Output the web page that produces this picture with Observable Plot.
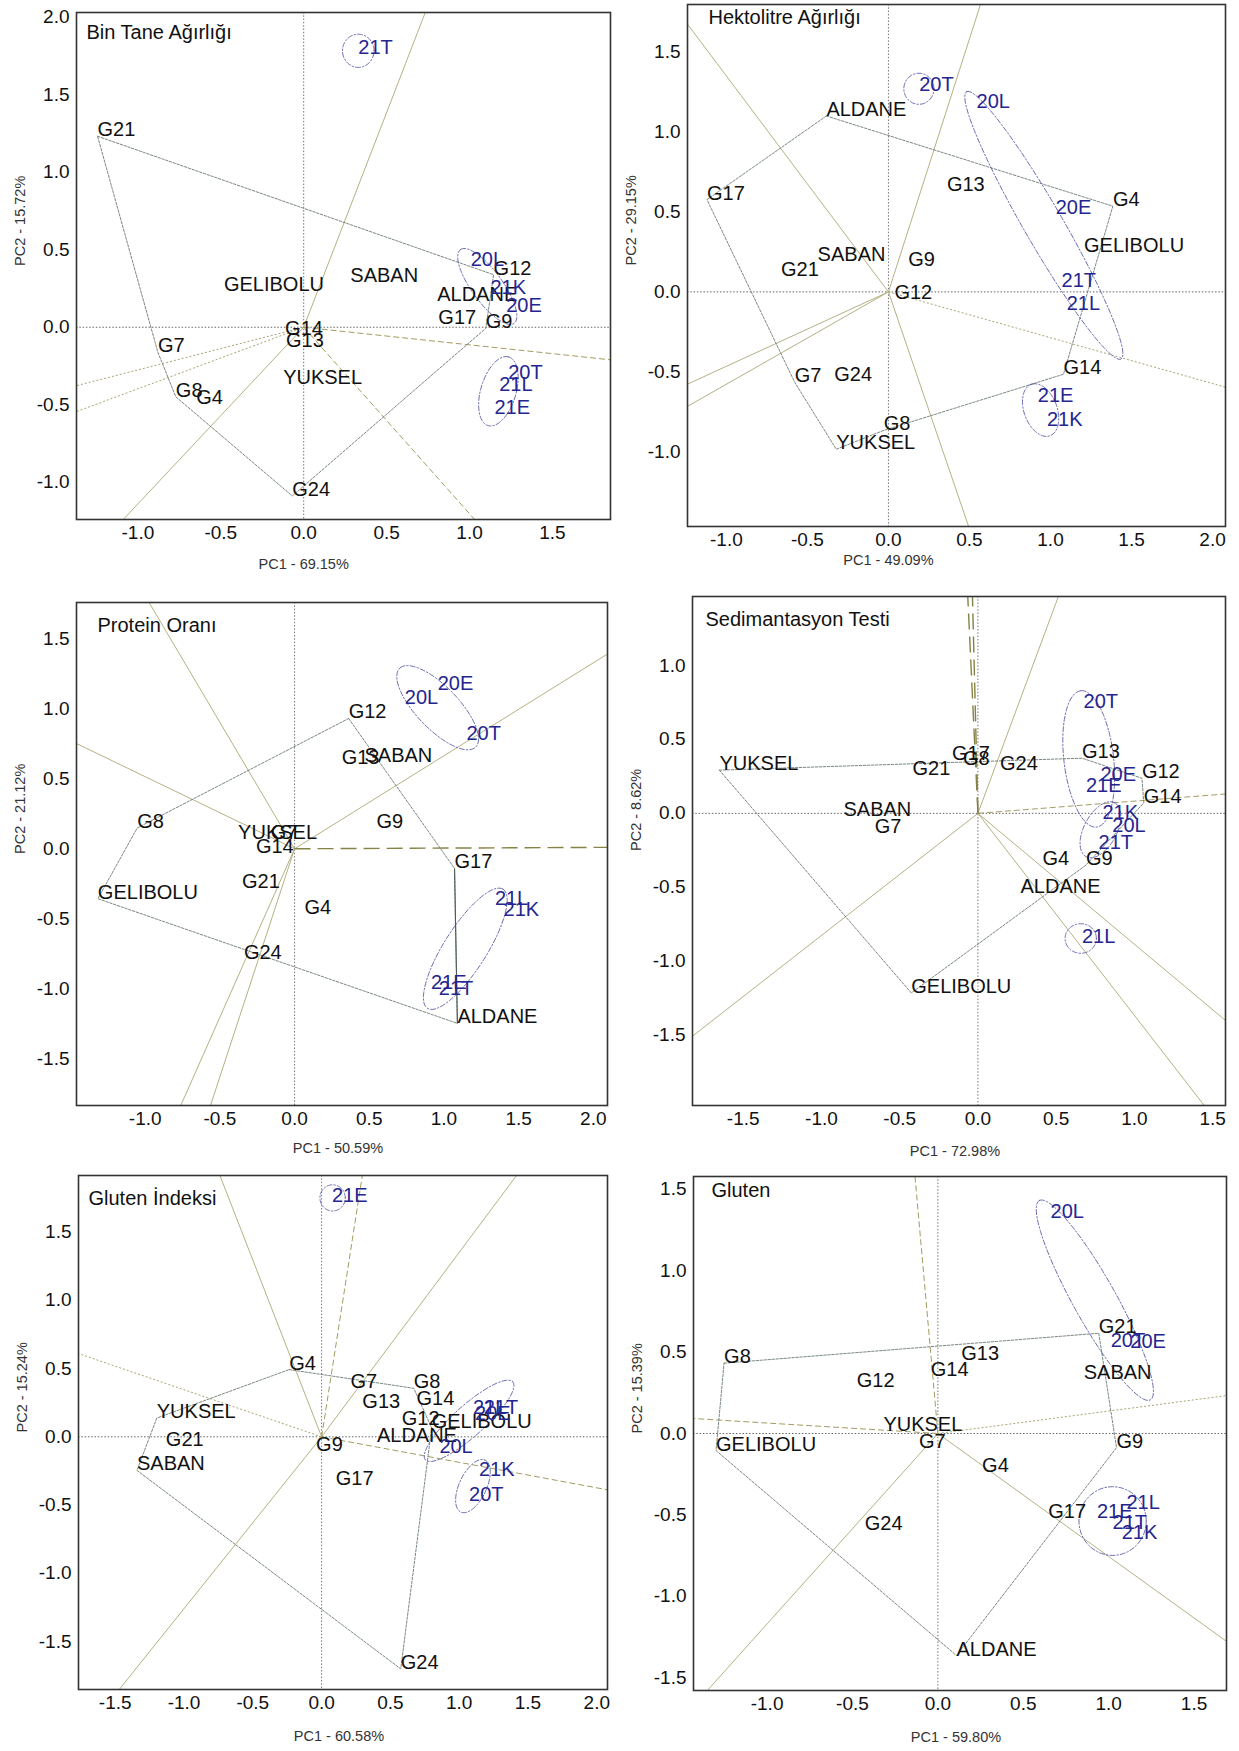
<!DOCTYPE html>
<html><head><meta charset="utf-8">
<script src="https://cdn.jsdelivr.net/npm/d3@7"></script>
<script src="https://cdn.jsdelivr.net/npm/@observablehq/plot@0.6"></script>
<style>
body{margin:0;background:#fff;font-family:"Liberation Sans",Arial,sans-serif}
#page{position:relative;width:1239px;height:1751px;overflow:hidden;background:#fff}
.panel{position:absolute}
</style></head><body><div id="page"></div>
<script>
// ---------- texts ----------
const titles = ["Bin Tane Ağırlığı","Hektolitre Ağırlığı","Protein Oranı","Sedimantasyon Testi","Gluten İndeksi","Gluten"];
const xLabels = ["PC1 - 69.15%","PC1 - 49.09%","PC1 - 50.59%","PC1 - 72.98%","PC1 - 60.58%","PC1 - 59.80%"];
const yLabels = ["PC2 - 15.72%","PC2 - 29.15%","PC2 - 21.12%","PC2 - 8.62%","PC2 - 15.24%","PC2 - 15.39%"];

// ---------- panel 1: Bin Tane Ağırlığı ----------
const p1XDomain = [-1.37, 1.85], p1YDomain = [-1.24, 2.03];
const p1XTicks = [-1.0,-0.5,0,0.5,1.0,1.5], p1YTicks = [-1.0,-0.5,0,0.5,1.0,1.5,2.0];
const p1Genos = [["G21",-1.243,1.232],["G12",1.145,0.339],["G9",1.098,-0.007],["G24",-0.069,-1.088],["G8",-0.771,-0.449],["G4",-0.648,-0.492],["G7",-0.879,-0.162],["GELIBOLU",-0.481,0.236],["SABAN",0.281,0.291],["ALDANE",0.805,0.172],["G17",0.812,0.021],["G14",-0.112,-0.05],["G13",-0.107,-0.126],["YUKSEL",-0.124,-0.365]];
const p1Envs = [["21T",0.329,1.764],["20L",1.007,0.396],["21K",1.126,0.212],["20E",1.221,0.098],["20T",1.233,-0.332],["21L",1.179,-0.408],["21E",1.150,-0.558]];
const p1Polygon = ["G21","G12","G9","G24","G8","G7"];
const p1Rays = [[0.733,2.03],[-1.088,-1.24],[1.031,-1.24],[-1.37,-0.377],[-1.37,-0.544],[1.85,-0.21]];
const p1Ellipses = [[0.329,1.783,0.095,0,0,0.107],[1.107,0.263,-0.160,0.239,0.079,0.053],[1.174,-0.413,0.06,0.222,0.103,-0.028]];

// ---------- panel 2: Hektolitre Ağırlığı ----------
const p2XDomain = [-1.24, 2.08], p2YDomain = [-1.467, 1.797];
const p2XTicks = [-1.0,-0.5,0,0.5,1.0,1.5,2.0], p2YTicks = [-1.0,-0.5,0,0.5,1.0,1.5];
const p2Genos = [["ALDANE",-0.383,1.10],["G17",-1.12,0.577],["G4",1.385,0.536],["G14",1.080,-0.515],["G8",-0.029,-0.866],["YUKSEL",-0.322,-0.984],["G7",-0.578,-0.566],["G24",-0.334,-0.557],["SABAN",-0.437,0.194],["G21",-0.663,0.097],["G9",0.122,0.159],["G12",0.037,-0.042],["G13",0.361,0.633],["GELIBOLU",1.207,0.247]];
const p2Envs = [["20T",0.19,1.256],["20L",0.544,1.148],["20E",1.032,0.485],["21T",1.068,0.028],["21L",1.1,-0.115],["21E",0.922,-0.688],["21K",0.978,-0.838]];
const p2Polygon = ["ALDANE","G4","G14","G8","YUKSEL","G7","G17"];
const p2Rays = [[0.568,1.797],[0.495,-1.467],[2.08,-0.596],[-1.24,1.674],[-1.24,-0.577],[-1.24,-0.716]];
const p2Ellipses = [[0.188,1.27,0.093,0,0,0.097],[0.959,0.416,-0.476,0.836,0.107,0.055],[0.939,-0.739,-0.054,0.162,0.098,0.029]];

// ---------- panel 3: Protein Oranı ----------
const p3XDomain = [-1.46, 2.095], p3YDomain = [-1.835, 1.76];
const p3XTicks = [-1.0,-0.5,0,0.5,1.0,1.5,2.0], p3YTicks = [-1.5,-1.0,-0.5,0,0.5,1.0,1.5];
const p3Genos = [["G12",0.362,0.931],["G8",-1.053,0.149],["GELIBOLU",-1.317,-0.357],["ALDANE",1.09,-1.248],["G17",1.071,-0.141],["G13",0.315,0.603],["SABAN",0.468,0.619],["G9",0.548,0.149],["YUKSEL",-0.378,0.069],["G7",-0.159,0.069],["G14",-0.259,-0.029],["G21",-0.352,-0.277],["G4",0.066,-0.464],["G24",-0.339,-0.789]];
const p3Envs = [["20E",0.958,1.136],["20L",0.738,1.037],["20T",1.151,0.779],["21L",1.341,-0.403],["21K",1.399,-0.483],["21E",0.913,-1.003],["21T",0.966,-1.043]];
const p3Polygon = ["G12","G17","ALDANE","GELIBOLU","G8"];
const p3Rays = [[2.095,1.392],[-0.974,1.76],[-1.46,0.752],[-0.762,-1.835],[-0.563,-1.835],[2.095,0.01]];
const p3Ellipses = [[0.958,1.008,-0.251,0.285,0.109,0.097],[1.143,-0.715,0.251,0.427,0.125,-0.075]];

// ---------- panel 4: Sedimantasyon Testi ----------
const p4XDomain = [-1.824, 1.582], p4YDomain = [-1.975, 1.466];
const p4XTicks = [-1.5,-1.0,-0.5,0,0.5,1.0,1.5], p4YTicks = [-1.5,-1.0,-0.5,0,0.5,1.0];
const p4Genos = [["YUKSEL",-1.652,0.292],["GELIBOLU",-0.426,-1.214],["G9",0.690,-0.350],["G14",1.060,0.071],["G12",1.048,0.237],["G13",0.665,0.373],["G24",0.141,0.292],["G17",-0.166,0.360],["G8",-0.096,0.325],["G21",-0.418,0.262],["SABAN",-0.859,-0.015],["G7",-0.66,-0.136],["G4",0.413,-0.350],["ALDANE",0.272,-0.539]];
const p4Envs = [["20T",0.675,0.715],["20E",0.783,0.222],["21E",0.69,0.146],["21K",0.796,-0.040],["20L",0.859,-0.123],["21T",0.771,-0.242],["21L",0.665,-0.879]];
const p4Polygon = ["YUKSEL","G13","G12","G14","G9","GELIBOLU"];
const p4Rays = [[-0.065,1.466],[-0.035,1.466],[0.514,1.466],[1.582,0.131],[1.582,-1.40],[1.446,-1.975],[-1.824,-1.506]];
const p4Ellipses = [[0.708,0.368,-0.05,0.461,0.158,0.018],[0.783,-0.111,0.088,0.184,0.096,-0.045],[0.657,-0.846,0.1,0,0,0.1]];

// ---------- panel 5: Gluten İndeksi ----------
const p5XDomain = [-1.767, 2.078], p5YDomain = [-1.85, 1.913];
const p5XTicks = [-1.5,-1.0,-0.5,0,0.5,1.0,1.5,2.0], p5YTicks = [-1.5,-1.0,-0.5,0,0.5,1.0,1.5];
const p5Genos = [["G4",-0.236,0.492],["YUKSEL",-1.198,0.137],["SABAN",-1.342,-0.246],["G24",0.575,-1.699],["G12",0.583,0.087],["GELIBOLU",0.80,0.065],["G7",0.21,0.355],["G8",0.67,0.355],["G13",0.296,0.213],["G14",0.69,0.23],["ALDANE",0.402,-0.041],["G21",-1.132,-0.068],["G9",-0.04,-0.104],["G17",0.103,-0.35]];
const p5Envs = [["21E",0.075,1.721],["21L",1.101,0.164],["21T",1.178,0.164],["20E",1.115,0.126],["20L",0.856,-0.115],["21K",1.144,-0.287],["20T",1.072,-0.47]];
const p5Polygon = ["G4","G8","GELIBOLU","G24","SABAN","YUKSEL"];
const p5Rays = [[-0.739,1.913],[0.296,1.913],[1.417,1.913],[-1.767,0.609],[2.078,-0.388],[-1.471,-1.85]];
const p5Ellipses = [[0.08,1.749,0.092,0,0,0.096],[1.072,0.117,0.316,0.287,0.08,-0.079],[1.10,-0.361,0.086,0.191,0.092,-0.038]];

// ---------- panel 6: Gluten ----------
const p6XDomain = [-1.431, 1.69], p6YDomain = [-1.579, 1.579];
const p6XTicks = [-1.0,-0.5,0,0.5,1.0,1.5], p6YTicks = [-1.5,-1.0,-0.5,0,0.5,1.0,1.5];
const p6Genos = [["G8",-1.252,0.432],["G21",0.942,0.616],["G9",1.046,-0.087],["ALDANE",0.109,-1.364],["GELIBOLU",-1.299,-0.105],["G13",0.137,0.451],["G12",-0.475,0.284],["G14",-0.042,0.352],["YUKSEL",-0.319,0.016],["G7",-0.111,-0.092],["G4",0.259,-0.236],["G17",0.646,-0.517],["G24",-0.428,-0.595],["SABAN",0.854,0.336]];
const p6Envs = [["20L",0.66,1.327],["20T",1.012,0.531],["20E",1.127,0.526],["21L",1.104,-0.465],["21E",0.931,-0.522],["21T",1.023,-0.586],["21K",1.076,-0.648]];
const p6Polygon = ["G8","G21","G9","ALDANE","GELIBOLU"];
const p6Rays = [[-0.134,1.579],[1.69,0.233],[-1.431,0.092],[1.69,-1.277],[-1.35,-1.579]];
const p6Ellipses = [[0.919,0.819,-0.324,0.613,0.113,0.058],[1.023,-0.538,0.197,0,0,0.211]];

// ---------- styles ----------
const rayStyle = {
  solid: {stroke: "#b6b184", width: 1, dash: null},
  dash: {stroke: "#a39c62", width: 1, dash: "6,3"},
  longdash: {stroke: "#858245", width: 1.4, dash: "16,7"},
  dot: {stroke: "#aaa472", width: 1, dash: "2,2"}
};
const FONT = "'Liberation Sans', Arial, Helvetica, sans-serif";

const panels = [
  {title: titles[0], xLabel: xLabels[0], yLabel: yLabels[0], genos: p1Genos, envs: p1Envs, poly: p1Polygon, rays: p1Rays,
   rayKinds: ["solid","solid","dash","dot","dot","dash"], ellipses: p1Ellipses, xDomain: p1XDomain, yDomain: p1YDomain,
   xTicks: p1XTicks, yTicks: p1YTicks, frame: [75.5, 609, 12, 519], titlePos: [10, 20], xLabelDy: 49, xLabelAtZero: true},
  {title: titles[1], xLabel: xLabels[1], yLabel: yLabels[1], genos: p2Genos, envs: p2Envs, poly: p2Polygon, rays: p2Rays,
   rayKinds: ["solid","solid","dot","solid","solid","solid"], ellipses: p2Ellipses, xDomain: p2XDomain, yDomain: p2YDomain,
   xTicks: p2XTicks, yTicks: p2YTicks, frame: [687, 1225, 4, 526], titlePos: [21, 13], xLabelDy: 38, xLabelAtZero: true},
  {title: titles[2], xLabel: xLabels[2], yLabel: yLabels[2], genos: p3Genos, envs: p3Envs, poly: p3Polygon, rays: p3Rays,
   rayKinds: ["solid","solid","solid","solid","solid","longdash"], ellipses: p3Ellipses, xDomain: p3XDomain, yDomain: p3YDomain,
   xTicks: p3XTicks, yTicks: p3YTicks, frame: [76, 607, 602, 1105], titlePos: [21, 23], xLabelDy: 47, hideY0: true,
   solidSides: [["G17","ALDANE"]]},
  {title: titles[3], xLabel: xLabels[3], yLabel: yLabels[3], genos: p4Genos, envs: p4Envs, poly: p4Polygon, rays: p4Rays,
   rayKinds: ["longdash","longdash","solid","dash","solid","solid","solid"], ellipses: p4Ellipses, xDomain: p4XDomain, yDomain: p4YDomain,
   xTicks: p4XTicks, yTicks: p4YTicks, frame: [692, 1225, 596, 1105], titlePos: [13, 23], xLabelDy: 50},
  {title: titles[4], xLabel: xLabels[4], yLabel: yLabels[4], genos: p5Genos, envs: p5Envs, poly: p5Polygon, rays: p5Rays,
   rayKinds: ["solid","dash","solid","dot","dash","solid"], ellipses: p5Ellipses, xDomain: p5XDomain, yDomain: p5YDomain,
   xTicks: p5XTicks, yTicks: p5YTicks, frame: [78, 607, 1175, 1689], titlePos: [10, 23.5], xLabelDy: 51},
  {title: titles[5], xLabel: xLabels[5], yLabel: yLabels[5], genos: p6Genos, envs: p6Envs, poly: p6Polygon, rays: p6Rays,
   rayKinds: ["dash","dot","dash","solid","solid"], ellipses: p6Ellipses, xDomain: p6XDomain, yDomain: p6YDomain,
   xTicks: p6XTicks, yTicks: p6YTicks, frame: [693, 1226, 1176, 1690], titlePos: [18, 14], xLabelDy: 51}
];

const tickFmt = d => d.toFixed(1);

function ellipsePts(e) {
  const [cx, cy, ax, ay, bx, by] = e;
  return d3.range(0, 97).map(i => {
    const t = i / 96 * 2 * Math.PI;
    return {x: cx + ax * Math.cos(t) + bx * Math.sin(t), y: cy + ay * Math.cos(t) + by * Math.sin(t)};
  });
}

const page = document.getElementById("page");

function drawPanel(p) {
  const [fl, fr, ft, fb] = p.frame;
  const mL = 72, mR = 12, mT = 14, mB = 66;
  const W = Math.round(fr - fl + mL + mR), H = Math.round(fb - ft + mT + mB);
  const byName = new Map(p.genos.map(d => [d[0], d]));
  const pt = n => ({x: byName.get(n)[1], y: byName.get(n)[2]});
  const polyPts = [...p.poly, p.poly[0]].map(pt);
  const rays = p.rays.map((r, i) => ({x: r[0], y: r[1], kind: p.rayKinds[i]}));
  const marks = [];
  marks.push(Plot.ruleX([0], {stroke: "#666", strokeWidth: 0.9, strokeDasharray: "1.5,1.8"}));
  if (!p.hideY0) marks.push(Plot.ruleY([0], {stroke: "#555", strokeWidth: 0.9, strokeDasharray: "1.5,1.8"}));
  for (const k of Object.keys(rayStyle)) {
    const sub = rays.filter(r => r.kind === k);
    if (!sub.length) continue;
    const s = rayStyle[k];
    marks.push(Plot.link(sub, {x1: () => 0, y1: () => 0, x2: "x", y2: "y", stroke: s.stroke, strokeWidth: s.width,
      strokeDasharray: s.dash || undefined, clip: true}));
  }
  marks.push(Plot.line(polyPts, {x: "x", y: "y", stroke: "#6b7b73", strokeWidth: 0.9, strokeDasharray: "2.5,1.5", clip: true}));
  if (p.solidSides) {
    const sides = p.solidSides.map(([a, b]) => ({a: pt(a), b: pt(b)}));
    marks.push(Plot.link(sides, {x1: d => d.a.x, y1: d => d.a.y, x2: d => d.b.x, y2: d => d.b.y, stroke: "#4d5a52", strokeWidth: 1.1}));
  }
  for (const e of p.ellipses) {
    marks.push(Plot.line(ellipsePts(e), {x: "x", y: "y", stroke: "#5c5ca6", strokeWidth: 0.9, strokeDasharray: "5,2,1.5,2", clip: true}));
  }
  marks.push(Plot.text(p.genos, {x: d => d[1], y: d => d[2], text: d => d[0], textAnchor: "start", lineAnchor: "bottom",
    fontSize: 20, fill: "#111"}));
  marks.push(Plot.text(p.envs, {x: d => d[1], y: d => d[2], text: d => d[0], textAnchor: "start", lineAnchor: "bottom",
    fontSize: 20, fill: "#25258f"}));
  marks.push(Plot.frame({stroke: "#333", strokeWidth: 1.6}));
  marks.push(Plot.axisX({ticks: p.xTicks, tickSize: 0, tickPadding: 6, fontSize: 19, tickFormat: tickFmt, label: null}));
  marks.push(Plot.axisY({ticks: p.yTicks, tickSize: 0, tickPadding: 7, fontSize: 19, tickFormat: tickFmt, label: null}));
  marks.push(Plot.text([p.title], {frameAnchor: "top-left", dx: p.titlePos[0], dy: p.titlePos[1], text: d => d,
    textAnchor: "start", lineAnchor: "middle", fontSize: 20, fill: "#111"}));
  marks.push(Plot.text([p.yLabel], {frameAnchor: "left", dx: -56, rotate: -90, text: d => d, fontSize: 14.5, fill: "#333"}));
  if (p.xLabelAtZero) {
    marks.push(Plot.text([p.xLabel], {x: () => 0, frameAnchor: "bottom", dy: p.xLabelDy, text: d => d, fontSize: 14.5, fill: "#333"}));
  } else {
    marks.push(Plot.text([p.xLabel], {frameAnchor: "bottom", dx: -4, dy: p.xLabelDy, text: d => d, fontSize: 14.5, fill: "#333"}));
  }
  const svg = Plot.plot({
    width: W, height: H, marginLeft: mL, marginRight: mR, marginTop: mT, marginBottom: mB,
    x: {domain: p.xDomain}, y: {domain: p.yDomain},
    style: {fontFamily: FONT, background: "transparent", color: "#111", overflow: "visible"},
    marks
  });
  const div = document.createElement("div");
  div.className = "panel";
  div.style.left = (fl - mL) + "px";
  div.style.top = (ft - mT) + "px";
  div.appendChild(svg);
  page.appendChild(div);
}

panels.forEach(drawPanel);
</script>
</body></html>
